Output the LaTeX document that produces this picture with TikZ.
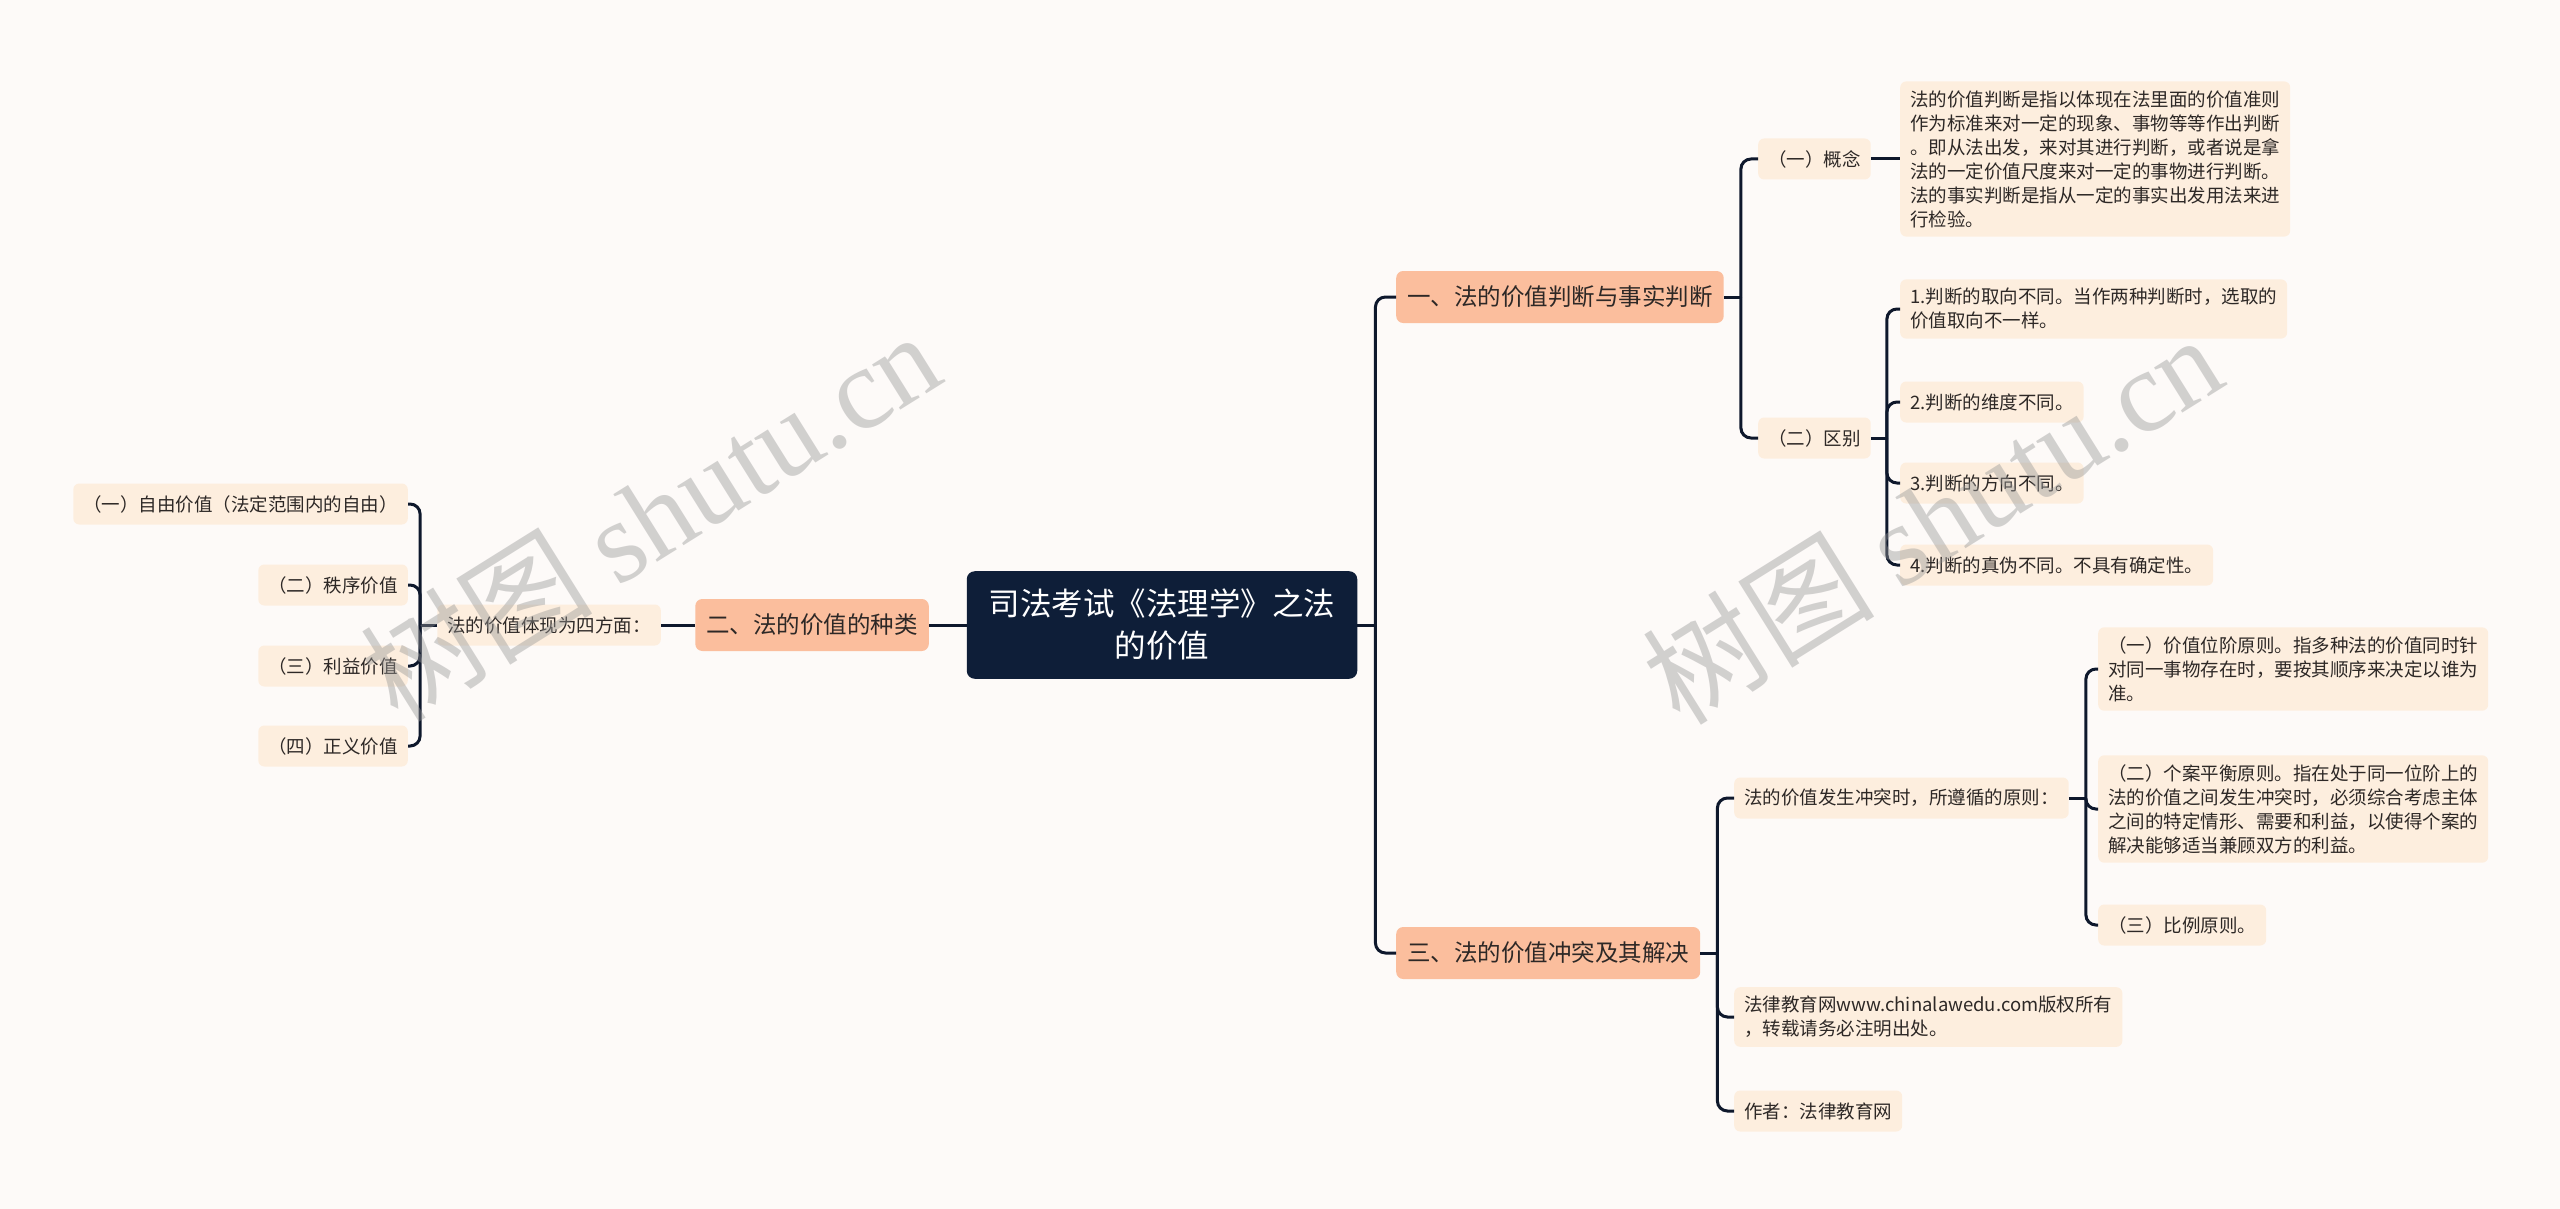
\documentclass[tikz,border=0pt]{standalone}
\usepackage{fontspec}
\setmainfont{Noto Sans CJK SC}
\newfontfamily\wmlatin{Liberation Serif}
\usetikzlibrary{calc}
\definecolor{bgc}{RGB}{253,250,248}
\definecolor{leafc}{RGB}{253,238,222}
\definecolor{branchc}{RGB}{251,190,157}
\definecolor{rootc}{RGB}{14,30,56}
\definecolor{linec}{RGB}{14,24,44}
\definecolor{txt}{RGB}{45,40,38}
\definecolor{wmc}{RGB}{150,150,150}
\tikzset{
  leaf/.style={fill=leafc, rounded corners=6pt, inner xsep=10pt, inner ysep=9pt,
    minimum height=41pt, font=\fontsize{18.5}{24}\selectfont, text=txt, align=left},
  branch/.style={fill=branchc, rounded corners=7pt, inner xsep=11pt,
    minimum height=52pt, font=\fontsize{23.5}{30}\selectfont, text=txt},
  rootnode/.style={fill=rootc, rounded corners=8pt, inner xsep=22pt, inner ysep=18pt,
    font=\fontsize{31.5}{42}\selectfont, text=white, align=center},
  conn/.style={draw=linec, line width=3pt, rounded corners=10pt},
  wm/.style={text=wmc, opacity=0.42, rotate=32, font=\fontsize{116}{116}\selectfont},
}
\begin{document}
\begin{tikzpicture}[x=1pt,y=-1pt]
\fill[bgc] (0,0) rectangle (2560,1209);
\useasboundingbox (0,0) rectangle (2560,1209);

% root
\node[rootnode] (root) at (1162,625) {司法考试《法理学》之法\\的价值};

% branch 1
\node[branch, anchor=west] (b1) at (1396,297) {一、法的价值判断与事实判断};
\node[leaf, anchor=west] (gai) at (1758,159) {（一）概念};
\node[leaf, anchor=west] (gait) at (1900,159) {法的价值判断是指以体现在法里面的价值准则\\作为标准来对一定的现象、事物等等作出判断\\。即从法出发，来对其进行判断，或者说是拿\\法的一定价值尺度来对一定的事物进行判断。\\法的事实判断是指从一定的事实出发用法来进\\行检验。};
\node[leaf, anchor=west] (qb) at (1758,438) {（二）区别};
\node[leaf, anchor=west] (d1) at (1900,309) {1.判断的取向不同。当作两种判断时，选取的\\价值取向不一样。};
\node[leaf, anchor=west] (d2) at (1900,402) {2.判断的维度不同。};
\node[leaf, anchor=west] (d3) at (1900,483) {3.判断的方向不同。};
\node[leaf, anchor=west] (d4) at (1900,565) {4.判断的真伪不同。不具有确定性。};

% branch 2
\node[branch, anchor=east] (b2) at (929,625) {二、法的价值的种类};
\node[leaf, anchor=east] (sm) at (661,625) {法的价值体现为四方面：};
\node[leaf, anchor=east] (v1) at (408,504) {（一）自由价值（法定范围内的自由）};
\node[leaf, anchor=east] (v2) at (408,585) {（二）秩序价值};
\node[leaf, anchor=east] (v3) at (408,666) {（三）利益价值};
\node[leaf, anchor=east] (v4) at (408,746) {（四）正义价值};

% branch 3
\node[branch, anchor=west] (b3) at (1396,953) {三、法的价值冲突及其解决};
\node[leaf, anchor=west] (yz) at (1734,798) {法的价值发生冲突时，所遵循的原则：};
\node[leaf, anchor=west] (p1) at (2098,669) {（一）价值位阶原则。指多种法的价值同时针\\对同一事物存在时，要按其顺序来决定以谁为\\准。};
\node[leaf, anchor=west] (p2) at (2098,809) {（二）个案平衡原则。指在处于同一位阶上的\\法的价值之间发生冲突时，必须综合考虑主体\\之间的特定情形、需要和利益，以使得个案的\\解决能够适当兼顾双方的利益。};
\node[leaf, anchor=west] (p3) at (2098,925) {（三）比例原则。};
\node[leaf, anchor=west] (cp) at (1734,1017) {法律教育网www.chinalawedu.com版权所有\\，转载请务必注明出处。};
\node[leaf, anchor=west] (au) at (1734,1111) {作者：法律教育网};

% connectors
\draw[conn] (root.east) -- ++(18,0) coordinate (jr);
\draw[conn] (jr) |- (b1.west);
\draw[conn] (jr) |- (b3.west);
\draw[conn] (root.west) -- (b2.east);
\draw[conn] (b2.west) -- (sm.east);
\draw[conn] (sm.west) -- ++(-17,0) coordinate (js);
\foreach \c in {v1,v2,v3,v4} \draw[conn] (js) |- (\c.east);
\draw[conn] (b1.east) -- ++(17,0) coordinate (jb1);
\draw[conn] (jb1) |- (gai.west);
\draw[conn] (jb1) |- (qb.west);
\draw[conn] (gai.east) -- (gait.west);
\draw[conn] (qb.east) -- ++(16,0) coordinate (jq);
\foreach \c in {d1,d2,d3,d4} \draw[conn] (jq) |- (\c.west);
\draw[conn] (b3.east) -- ++(17,0) coordinate (jb3);
\foreach \c in {yz,cp,au} \draw[conn] (jb3) |- (\c.west);
\draw[conn] (yz.east) -- ++(17,0) coordinate (jy);
\foreach \c in {p1,p2,p3} \draw[conn] (jy) |- (\c.west);

% watermarks
\node[wm] (wm1) at (650,515) {树图 {\wmlatin shutu.cn}};
\node[wm] (wm2) at (1932,518) {树图 {\wmlatin shutu.cn}};
\end{tikzpicture}
\end{document}
